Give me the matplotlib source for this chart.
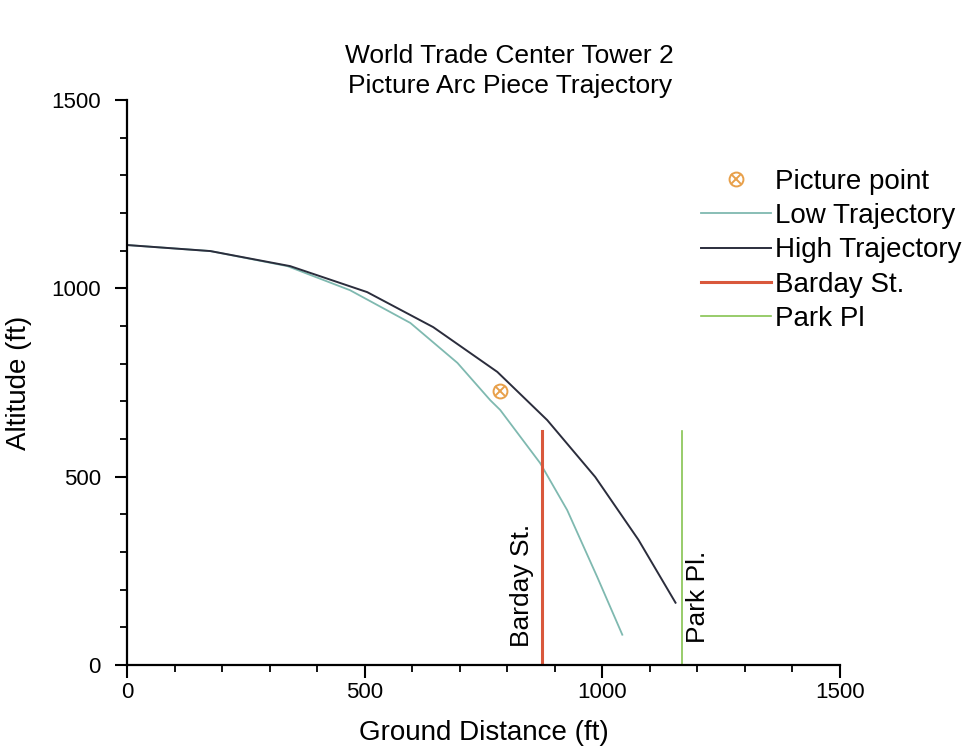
import matplotlib
matplotlib.use("Agg")
import matplotlib.pyplot as plt
import numpy as np

plt.rcParams['font.family'] = ['Liberation Sans', 'DejaVu Sans']

# trajectories (ft)
high_x = [0, 175, 343, 505, 644, 779, 884, 985, 1076, 1154]
high_y = [1115, 1099, 1059, 990, 897, 778, 650, 499, 332, 165]

low_x = [0, 175, 337, 469, 596, 695, 764, 785, 869, 926, 989, 1042]
low_y = [1115, 1099, 1059, 995, 908, 802, 703, 677, 536, 411, 234, 80]

pic_x = [785]
pic_y = [727]

barday_x = [874, 874]
barday_y = [0, 620]
park_x = [1168, 1168]
park_y = [0, 622]

fig = plt.figure(figsize=(9.71, 7.47), dpi=100)
ax = fig.add_axes([0.131, 0.110, 0.734, 0.756])

ln_low, = ax.plot(low_x, low_y, color='#7fb9b0', lw=1.3)
ln_high, = ax.plot(high_x, high_y, color='#2b2d3c', lw=1.4)
ln_bar, = ax.plot(barday_x, barday_y, color='#d9583c', lw=2.2)
ln_park, = ax.plot(park_x, park_y, color='#86c452', lw=1.2)
m1, = ax.plot(pic_x, pic_y, 'o', ms=10, mfc='none', mec='#e8a04a', mew=1.4)
m2, = ax.plot(pic_x, pic_y, 'x', ms=7, mec='#e8a04a', mew=1.4)

ax.text(830, 210, "Barday St.", rotation=90, ha='center', va='center', fontsize=19)
ax.text(1202, 180, "Park Pl.", rotation=90, ha='center', va='center', fontsize=19)

ax.set_xlim(0, 1500)
ax.set_ylim(0, 1500)
ax.set_xticks([0, 500, 1000, 1500])
ax.set_yticks([0, 500, 1000, 1500])
ax.set_xticks(np.arange(0, 1501, 100), minor=True)
ax.set_yticks(np.arange(0, 1501, 100), minor=True)
ax.tick_params(which='major', length=9, width=1.5, labelsize=16)
ax.tick_params(axis='y', which='major', pad=10)
ax.tick_params(which='minor', length=5, width=1.3)
for s in ['top', 'right']:
    ax.spines[s].set_visible(False)
for s in ['left', 'bottom']:
    ax.spines[s].set_linewidth(1.6)

ax.set_xlabel("Ground Distance (ft)", fontsize=20, labelpad=12)
ax.set_ylabel("Altitude (ft)", fontsize=20, labelpad=14)
fig.text(0.525, 0.905, "World Trade Center Tower 2\nPicture Arc Piece Trajectory",
         fontsize=19, ha='center', va='center', linespacing=1.3)

fig.legend([(m1, m2), ln_low, ln_high, ln_bar, ln_park],
           ["Picture point", "Low Trajectory", "High Trajectory", "Barday St.", "Park Pl"],
           loc='upper left', bbox_to_anchor=(0.711, 0.789), frameon=False,
           fontsize=20, handlelength=2.5, handletextpad=0.15, labelspacing=0.3,
           borderaxespad=0)

fig.savefig("out.png", dpi=100)
